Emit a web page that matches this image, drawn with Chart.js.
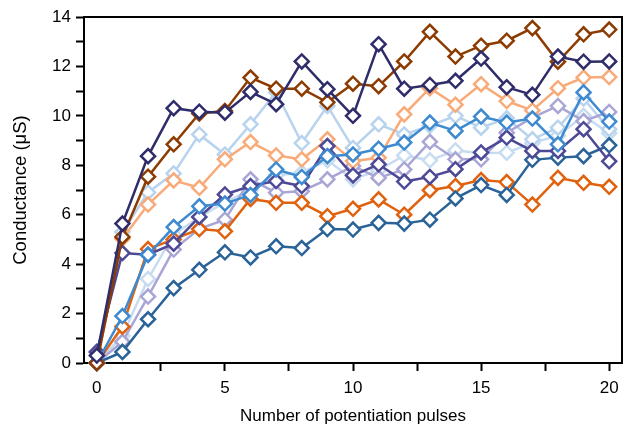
<!DOCTYPE html>
<html>
<head>
<meta charset="utf-8">
<script src="https://cdn.jsdelivr.net/npm/chart.js@4"></script>
<style>
  html, body { margin: 0; padding: 0; background: #fff; }
  #wrap { width: 626px; height: 435px; }
</style>
</head>
<body>
<div id="wrap"><canvas id="pulseChart"></canvas></div>
<script>
// Pulse number on the x axis
const pulses = [0, 1, 2, 3, 4, 5, 6, 7, 8, 9, 10, 11, 12, 13, 14, 15, 16, 17, 18, 19, 20];

// Conductance (uS) per device
const navy     = [0.3, 5.64, 8.37, 10.31, 10.17, 10.13, 10.97, 10.47, 12.2, 11.08, 10.0, 12.9, 11.1, 11.25, 11.42, 12.32, 11.16, 10.85, 12.4, 12.19, 12.2];
const brown    = [0, 5.1, 7.54, 8.85, 10.1, 10.2, 11.55, 11.1, 11.1, 10.55, 11.3, 11.2, 12.2, 13.4, 12.4, 12.84, 13.04, 13.55, 12.19, 13.3, 13.49];
const mid      = [0, 1.9, 4.38, 5.5, 6.34, 6.45, 6.8, 7.83, 7.53, 8.37, 8.44, 8.67, 8.92, 9.73, 9.39, 9.97, 9.73, 9.89, 8.85, 10.95, 9.77];
const indigo   = [0.45, 4.45, 4.38, 4.83, 5.91, 6.82, 7.16, 7.36, 7.16, 8.78, 7.59, 8.04, 7.34, 7.53, 7.84, 8.52, 9.12, 8.58, 8.58, 9.46, 8.16];
const steel    = [0, 0.45, 1.77, 3.03, 3.77, 4.48, 4.27, 4.72, 4.65, 5.42, 5.4, 5.67, 5.64, 5.8, 6.66, 7.2, 6.8, 8.22, 8.31, 8.37, 8.81];
const orange   = [0, 1.47, 4.61, 5.0, 5.42, 5.33, 6.64, 6.48, 6.48, 5.94, 6.24, 6.62, 6.0, 6.99, 7.16, 7.4, 7.32, 6.41, 7.49, 7.29, 7.13];
const peach    = [0, 5.03, 6.41, 7.39, 7.09, 8.24, 8.94, 8.4, 8.24, 9.05, 8.17, 8.3, 10.06, 11.12, 10.45, 11.28, 10.6, 10.22, 11.12, 11.55, 11.57];
const lavender = [0, 0.86, 2.69, 4.59, 5.43, 5.8, 7.43, 6.89, 6.95, 7.43, 7.97, 7.49, 7.83, 8.95, 8.24, 8.24, 9.32, 9.93, 10.4, 9.79, 10.16];
const skyA     = [0, 5.3, 6.9, 7.67, 9.25, 8.44, 9.66, 10.96, 8.9, 10.4, 8.7, 9.66, 9.25, 9.6, 10.0, 9.52, 9.9, 9.05, 9.52, 10.7, 9.46];
const skyB     = [0, 1.1, 3.4, 5.2, 5.9, 6.5, 7.0, 7.6, 7.7, 8.2, 7.43, 7.8, 8.4, 8.2, 8.6, 8.5, 8.51, 8.9, 9.2, 10.0, 9.3];

// Tick positions
const xTicks = [0, 2.5, 5, 7.5, 10, 12.5, 15, 17.5, 20];
const yTicks = [0, 1, 2, 3, 4, 5, 6, 7, 8, 9, 10, 11, 12, 13, 14];

const series = [
    { data: navy, color: '#2f2c6a' },
    { data: brown, color: '#8c3c02' },
    { data: mid, color: '#3d8ad0' },
    { data: indigo, color: '#4d4996' },
    { data: steel, color: '#2a6398' },
    { data: orange, color: '#e0620e' },
    { data: peach, color: '#f8ab78' },
    { data: lavender, color: '#a9a6d6' },
    { data: skyA, color: '#b8d3ee' },
    { data: skyB, color: '#c8dcf1' },
];

const datasets = series.map(s => ({
    data: s.data.map((y, i) => ({ x: pulses[i], y: y })),
    borderColor: s.color,
    borderWidth: 2.5,
    pointStyle: 'rectRot',
    pointRadius: 7,
    pointBorderWidth: 2.5,
    pointBackgroundColor: '#ffffff',
    pointBorderColor: s.color,
    tension: 0,
    clip: false,
}));

// Top and right edges of the frame
const frame = {
    id: 'frame',
    afterDraw(chart) {
        const { ctx, chartArea: a } = chart;
        ctx.save();
        ctx.strokeStyle = '#000';
        ctx.lineWidth = 2;
        ctx.beginPath();
        ctx.moveTo(a.left, a.top);
        ctx.lineTo(a.right, a.top);
        ctx.lineTo(a.right, a.bottom);
        ctx.stroke();
        ctx.restore();
    }
};

const family = "'Liberation Sans', Arial, sans-serif";

new Chart(document.getElementById('pulseChart'), {
    type: 'line',
    data: { datasets },
    options: {
        responsive: true,
        maintainAspectRatio: false,
        animation: false,
        events: [],
        layout: { autoPadding: false, padding: { top: 17, right: 4, left: 0, bottom: 0 } },
        plugins: { legend: { display: false }, tooltip: { enabled: false } },
        scales: {
            x: {
                type: 'linear',
                min: -0.5,
                max: 20.5,
                afterBuildTicks: scale => { scale.ticks = xTicks.map(v => ({ value: v })); },
                afterFit: scale => {
                    scale.height = 72;
                    scale.paddingLeft = 0;
                    scale.paddingRight = 0;
                },
                ticks: {
                    color: '#000',
                    font: { family, size: 17 },
                    padding: 7,
                    maxRotation: 0,
                    autoSkip: false,
                    callback: v => (v % 5 === 0 ? v : ''),
                },
                grid: { drawOnChartArea: false, tickLength: 8, tickColor: '#000', tickWidth: 2 },
                border: { color: '#000', width: 2 },
                title: {
                    display: true,
                    text: 'Number of potentiation pulses',
                    color: '#000',
                    font: { family, size: 17 },
                    padding: { top: 0, bottom: 8 },
                },
            },
            y: {
                type: 'linear',
                min: 0,
                max: 14,
                afterBuildTicks: scale => { scale.ticks = yTicks.map(v => ({ value: v })); },
                afterFit: scale => {
                    scale.width = 84;
                    scale.paddingTop = 0;
                    scale.paddingBottom = 0;
                },
                ticks: {
                    color: '#000',
                    font: { family, size: 17 },
                    padding: 5,
                    autoSkip: false,
                    callback: v => (v % 2 === 0 ? v : ''),
                },
                grid: { drawOnChartArea: false, tickLength: 8, tickColor: '#000', tickWidth: 2 },
                border: { color: '#000', width: 2 },
                title: {
                    display: true,
                    text: 'Conductance (μS)',
                    color: '#000',
                    font: { family, size: 18.5 },
                    padding: { top: 10, bottom: 4 },
                },
            },
        },
    },
    plugins: [frame],
});
</script>
</body>
</html>
